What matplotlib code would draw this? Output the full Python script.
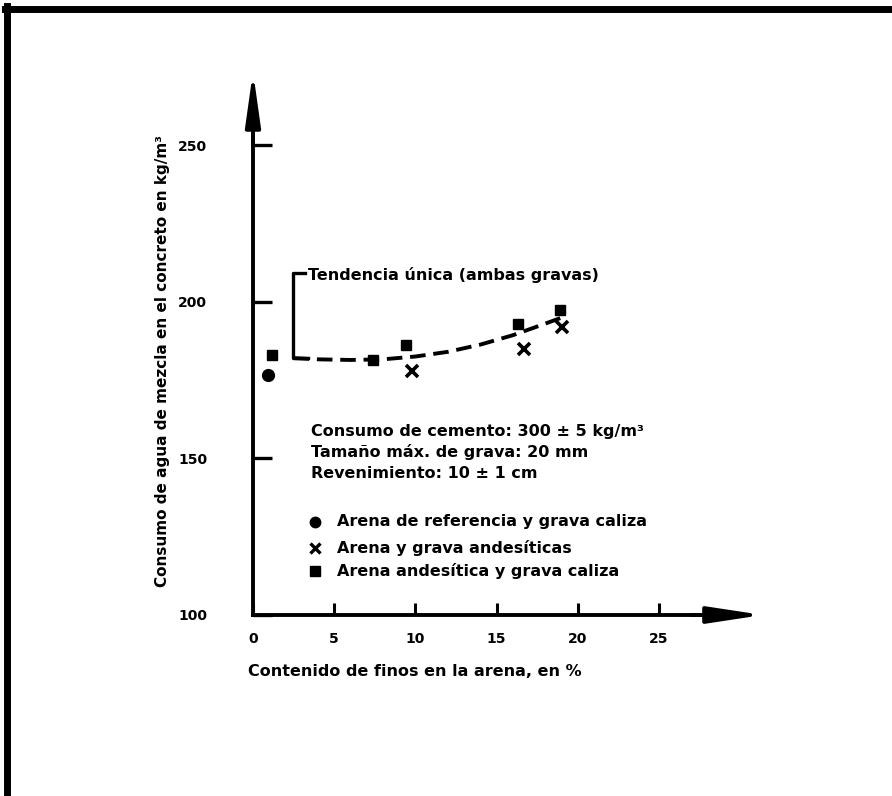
import matplotlib
matplotlib.use("Agg")
import matplotlib.pyplot as plt
from matplotlib.lines import Line2D

plt.rcParams['font.family'] = ['DejaVu Sans']
plt.rcParams['font.weight'] = 'bold'

# contenido de finos (%) vs consumo de agua (kg/m3)
ref_x = [0.9]
ref_y = [176.6]
and_x = [9.8, 16.7, 19.0]           # arena y grava andesiticas
and_y = [177.9, 185.0, 191.9]
cal_x = [1.2, 7.4, 9.4, 16.3, 18.9]  # arena andesitica y grava caliza
cal_y = [183.0, 181.4, 186.2, 193.0, 197.3]

# tendencia unica (leida a mano)
trend_x = [2.5, 4, 6, 8, 10, 12, 14, 16, 18, 19.2]
trend_y = [182.0, 181.6, 181.4, 181.6, 182.5, 184.0, 186.3, 189.3, 193.0, 195.3]

xticks = [0, 5, 10, 15, 20, 25]
yticks = [100, 150, 200, 250]

FS = 11.5

W, H = 892, 796
fig = plt.figure(figsize=(W / 100, H / 100), dpi=100)
ax = fig.add_axes([253 / W, 1 - 615 / H, 519.7 / W, 548.3 / H])
ax.set_xlim(0, 32)
ax.set_ylim(100, 275)

for s in ['top', 'right']:
    ax.spines[s].set_visible(False)
ax.spines['left'].set_linewidth(2.8)
ax.spines['bottom'].set_linewidth(2.8)
ax.spines['left'].set_bounds(100, 258)
ax.spines['bottom'].set_bounds(0, 29)

ax.set_xticks(xticks)
ax.set_yticks(yticks)
ax.tick_params(axis='y', direction='in', length=14, width=2.4, pad=33, labelsize=10)
ax.tick_params(axis='x', direction='in', length=9, width=2.2, pad=12, labelsize=10)
for lab in ax.get_xticklabels() + ax.get_yticklabels():
    lab.set_fontweight('bold')

# flechas de los ejes
ax.annotate('', xy=(0, 273.5), xytext=(0, 250),
            arrowprops=dict(arrowstyle='-|>,head_length=3.2,head_width=0.45',
                            mutation_scale=10, lw=2.8, color='black',
                            shrinkA=0, shrinkB=0))
ax.annotate('', xy=(31.4, 100), xytext=(27, 100),
            arrowprops=dict(arrowstyle='-|>,head_length=3.3,head_width=0.5',
                            mutation_scale=10, lw=2.8, color='black',
                            shrinkA=0, shrinkB=0))

# corchete y linea de tendencia
ax.plot([3.2, 2.46, 2.46, 3.4], [209.2, 209.2, 182.0, 182.0], color='black', lw=2.4)
ax.plot(trend_x, trend_y, color='black', lw=2.8, ls=(0, (4, 2)))
ax.text(3.4, 208.6, 'Tendencia única (ambas gravas)', fontsize=FS,
        fontweight='bold', va='center', ha='left')

ax.plot(ref_x, ref_y, 'o', color='black', ms=8.5)
ax.plot(cal_x, cal_y, 's', color='black', ms=7.8)
ax.plot(and_x, and_y, 'x', color='black', ms=8, mew=2.6)

# notas
notes = ['Consumo de cemento: 300 ± 5 kg/m³',
         'Tamaño máx. de grava: 20 mm',
         'Revenimiento: 10 ± 1 cm']
note_y = [158.7, 152.0, 145.3]
for t, y in zip(notes, note_y):
    ax.text(3.6, y, t, fontsize=FS, fontweight='bold', va='center', ha='left')

legend_labels = ['Arena de referencia y grava caliza',
                 'Arena y grava andesíticas',
                 'Arena andesítica y grava caliza']
legend_y = [129.7, 121.4, 114.0]
ax.plot(3.8, legend_y[0], 'o', color='black', ms=7.5)
ax.plot(3.8, legend_y[1], 'x', color='black', ms=7, mew=2.4)
ax.plot(3.8, legend_y[2], 's', color='black', ms=7)
for t, y in zip(legend_labels, legend_y):
    ax.text(5.2, y, t, fontsize=FS, fontweight='bold', va='center', ha='left')

fig.text(248 / W, 1 - 672 / H, 'Contenido de finos en la arena, en %',
         fontsize=FS, fontweight='bold', va='center', ha='left')
fig.text(163 / W, 1 - 361 / H, 'Consumo de agua de mezcla en el concreto en kg/m³',
         fontsize=11, fontweight='bold', va='center', ha='center', rotation=90)

# marco
fig.add_artist(Line2D([5 / W, 1], [1 - 9 / H, 1 - 9 / H], color='black', lw=5))
fig.add_artist(Line2D([7 / W, 7 / W], [0, 1 - 6 / H], color='black', lw=5))

fig.savefig('out.png', dpi=100)
